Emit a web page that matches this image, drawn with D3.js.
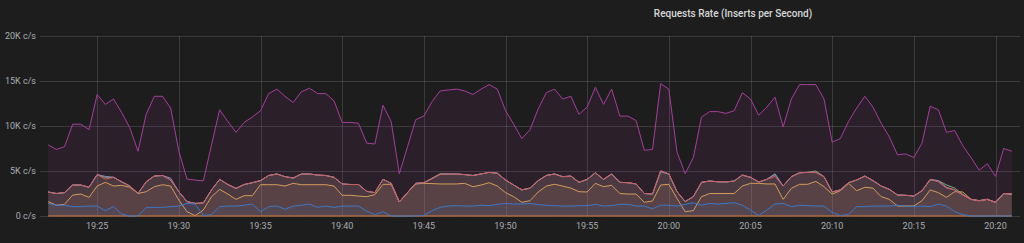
<!DOCTYPE html>
<html>
<head>
<meta charset="utf-8">
<script src="https://cdn.jsdelivr.net/npm/d3@7"></script>
<style>
  html, body { margin: 0; padding: 0; background: #1d1d1e; }
  svg { display: block; }
</style>
</head>
<body>
<div id="chart"></div>
<script>
// samples every 30s, starting 19:22:00, values in K c/s
var startTime = new Date(2020, 0, 1, 19, 22, 0);
var stepSec = 30;

var purpleTotal = [7.9, 7.4, 7.7, 10.2, 10.2, 9.6, 13.5, 12.4, 13.0, 11.5,
  9.8, 7.2, 11.3, 13.3, 13.3, 12.0, 7.2, 4.1, 4.0, 3.9,
  7.9, 11.8, 10.5, 9.3, 10.4, 11.0, 11.7, 13.6, 14.1, 13.3,
  12.6, 13.8, 14.2, 13.6, 13.6, 12.8, 10.4, 10.4, 10.3, 8.1,
  8.0, 12.3, 10.5, 4.7, 7.7, 10.7, 11.1, 12.7, 13.9, 14.0,
  14.1, 13.9, 13.5, 14.1, 14.6, 14.1, 11.7, 10.2, 8.6, 9.6,
  11.9, 13.7, 14.1, 13.0, 13.3, 11.3, 12.1, 14.3, 12.4, 14.1,
  11.1, 11.1, 10.6, 7.3, 7.4, 14.7, 14.1, 7.1, 4.7, 6.5,
  11.0, 11.6, 11.6, 11.4, 11.7, 13.7, 13.0, 11.2, 12.1, 13.2,
  9.9, 13.0, 14.6, 14.6, 14.6, 13.0, 8.2, 8.6, 10.5, 12.0,
  13.3, 12.1, 10.3, 8.8, 6.8, 6.9, 6.5, 8.1, 12.2, 11.8,
  9.3, 9.5, 7.8, 6.5, 5.1, 5.8, 4.4, 7.5, 7.2];

var greenSeries = [2.67, 2.5, 2.6, 3.44, 3.44, 3.19, 4.6, 4.3, 4.3, 3.8,
  3.33, 2.5, 3.8, 4.44, 4.5, 4.0, 2.7, 1.6, 1.4, 1.45,
  2.9, 4.07, 3.5, 3.07, 3.5, 3.7, 3.93, 4.5, 4.67, 4.37,
  4.22, 4.67, 4.67, 4.55, 4.5, 4.3, 3.56, 3.5, 3.5, 2.74,
  2.6, 4.07, 3.63, 1.56, 2.6, 3.63, 3.7, 4.2, 4.7, 4.67,
  4.67, 4.6, 4.5, 4.67, 4.85, 4.75, 4.0, 3.44, 2.9, 3.1,
  3.93, 4.5, 4.67, 4.37, 4.44, 3.74, 4.07, 4.8, 4.07, 4.67,
  3.74, 3.7, 3.56, 2.5, 2.44, 5.0, 4.67, 2.7, 1.6, 2.15,
  3.74, 3.89, 3.8, 3.78, 3.89, 4.55, 4.3, 3.78, 4.07, 4.6,
  3.33, 4.37, 4.8, 4.85, 5.0, 4.37, 2.67, 2.9, 3.7, 4.0,
  4.44, 3.93, 3.33, 2.96, 2.33, 2.3, 2.22, 2.81, 4.0, 3.93,
  3.45, 3.1, 2.4, 1.85, 1.7, 1.85, 1.52, 2.5, 2.44];

var yellowSeries = [1.6, 1.2, 1.3, 2.33, 2.44, 2.07, 3.33, 3.74, 3.33, 3.41,
  3.2, 2.5, 2.7, 3.26, 3.48, 3.33, 1.78, 0.48, 0.04, 0.67,
  2.15, 2.96, 2.44, 1.85, 2.26, 2.26, 3.48, 3.48, 3.48, 3.33,
  3.63, 3.48, 3.48, 3.48, 3.48, 3.33, 2.3, 2.3, 2.22, 2.15,
  2.37, 3.52, 3.52, 1.56, 2.6, 3.56, 3.63, 3.6, 3.56, 3.56,
  3.56, 3.63, 3.26, 3.44, 3.7, 3.33, 2.6, 2.15, 1.52, 1.7,
  2.67, 3.33, 3.52, 3.33, 3.1, 2.7, 2.67, 3.63, 3.26, 3.41,
  2.5, 2.44, 2.44, 1.52, 1.67, 3.44, 3.52, 1.96, 0.48, 0.6,
  2.15, 2.5, 2.5, 2.5, 2.5, 3.33, 3.63, 3.63, 3.56, 3.56,
  1.85, 3.07, 3.52, 3.52, 3.85, 3.26, 2.44, 2.81, 3.63, 2.81,
  3.19, 3.1, 2.15, 1.85, 1.11, 1.11, 1.11, 1.7, 2.9, 2.6,
  2.07, 2.7, 2.67, 1.85, 1.7, 1.85, 1.52, 2.5, 2.44];

var lavenderSeries = [2.67, 2.5, 2.6, 3.44, 3.44, 3.19, 4.6, 4.4, 4.3, 3.8,
  3.33, 2.5, 3.8, 4.44, 4.5, 4.2, 2.7, 1.6, 1.4, 1.45,
  2.9, 4.07, 3.5, 3.07, 3.5, 3.7, 3.93, 4.5, 4.67, 4.37,
  4.22, 4.67, 4.67, 4.55, 4.5, 4.3, 3.56, 3.5, 3.5, 2.74,
  2.6, 4.07, 3.63, 1.56, 2.6, 3.63, 3.7, 4.15, 4.63, 4.67,
  4.67, 4.6, 4.5, 4.67, 4.85, 4.75, 4.0, 3.44, 2.9, 3.1,
  3.93, 4.5, 4.67, 4.37, 4.44, 3.74, 4.07, 4.8, 4.07, 4.67,
  3.74, 3.7, 3.56, 2.5, 2.44, 4.9, 4.67, 2.7, 1.6, 2.15,
  3.74, 3.89, 3.8, 3.78, 3.89, 4.55, 4.3, 3.78, 4.07, 4.7,
  3.33, 4.37, 4.8, 4.85, 4.85, 4.37, 2.67, 2.9, 3.7, 4.0,
  4.44, 3.93, 3.33, 2.96, 2.33, 2.3, 2.22, 2.81, 4.07, 3.93,
  3.19, 2.9, 2.33, 1.85, 1.7, 1.85, 1.52, 2.5, 2.44];

var redSeries = [2.67, 2.5, 2.6, 3.44, 3.44, 3.19, 4.6, 4.1, 4.3, 3.8,
  3.33, 2.5, 3.8, 4.44, 4.5, 4.0, 2.7, 1.6, 1.4, 1.45,
  2.9, 4.07, 3.5, 3.07, 3.5, 3.7, 3.93, 4.5, 4.67, 4.37,
  4.22, 4.67, 4.67, 4.55, 4.5, 4.3, 3.56, 3.5, 3.5, 2.74,
  2.6, 4.07, 3.63, 1.56, 2.6, 3.63, 3.7, 4.15, 4.63, 4.67,
  4.67, 4.6, 4.5, 4.67, 4.85, 4.75, 4.0, 3.44, 2.9, 3.1,
  3.93, 4.5, 4.67, 4.37, 4.44, 3.74, 4.07, 4.8, 4.07, 4.67,
  3.74, 3.7, 3.56, 2.5, 2.44, 5.04, 4.67, 2.7, 1.6, 2.15,
  3.74, 3.89, 3.8, 3.78, 3.89, 4.55, 4.3, 3.78, 4.07, 4.4,
  3.33, 4.37, 4.8, 4.85, 4.85, 4.37, 2.67, 2.9, 3.7, 4.0,
  4.44, 3.93, 3.33, 2.96, 2.33, 2.3, 2.22, 2.81, 4.07, 3.8,
  3.1, 2.9, 2.33, 1.85, 1.7, 1.85, 1.52, 2.5, 2.44];

var blueSeries = [1.4, 1.2, 1.2, 1.04, 1.04, 1.11, 1.11, 0.6, 1.04, 0.22,
  0, 0, 0.96, 0.96, 0.96, 1.04, 1.11, 1.4, 1.33, 0.07,
  0.15, 1.04, 1.11, 1.11, 1.2, 1.33, 0.48, 1.04, 1.11, 0.74,
  1.11, 1.2, 1.33, 0.96, 1.11, 0.96, 1.11, 1.11, 1.11, 0.55,
  0.15, 0.48, 0, 0, 0, 0, 0.07, 0.6, 0.96, 1.11,
  1.15, 1.11, 1.11, 1.2, 1.15, 1.3, 1.4, 1.33, 1.33, 1.4,
  1.26, 1.2, 1.15, 1.11, 1.11, 1.15, 1.15, 1.3, 1.11, 1.15,
  1.3, 1.3, 1.11, 1.11, 0.81, 1.2, 1.2, 1.11, 1.3, 1.48,
  1.2, 1.4, 1.33, 1.4, 1.48, 1.2, 0.67, 0.07, 0.67, 1.33,
  1.4, 1.04, 1.2, 1.15, 1.11, 1.11, 0.4, 0.07, 0.15, 1.04,
  1.04, 1.11, 1.11, 1.11, 1.2, 1.11, 1.04, 1.11, 1.04, 1.33,
  1.11, 0.48, 0.15, 0, 0, 0, 0, 0, 0];

var orangeSeries = [0, 0, 0, 0, 0, 0, 0, 0, 0, 0, 0, 0, 0, 0, 0, 0, 0, 0, 0, 0,
  0, 0, 0, 0, 0, 0, 0, 0, 0, 0, 0, 0, 0, 0, 0, 0, 0, 0, 0, 0,
  0, 0, 0, 0, 0, 0, 0, 0, 0, 0, 0, 0, 0, 0, 0, 0, 0, 0, 0, 0,
  0, 0, 0, 0, 0, 0, 0, 0, 0, 0, 0, 0, 0, 0, 0, 0, 0, 0, 0, 0,
  0, 0, 0, 0, 0, 0, 0, 0, 0, 0, 0, 0, 0, 0, 0, 0, 0, 0, 0, 0,
  0, 0, 0, 0, 0, 0, 0, 0, 0, 0, 0, 0, 0, 0, 0, 0, 0, 0, 0];

var yTicks = [0, 5, 10, 15, 20];

var series = [
  { values: purpleTotal, color: "#a63e9b" },
  { values: greenSeries, color: "#7ea86d" },
  { values: yellowSeries, color: "#d49c58" },
  { values: lavenderSeries, color: "#8589c6" },
  { values: redSeries, color: "#d45a60" },
  { values: orangeSeries, color: "#e07a35" },
  { values: blueSeries, color: "#3a78c6" }
];

var width = 1024, height = 243;

var svg = d3.select("#chart").append("svg")
  .attr("width", width)
  .attr("height", height);

var x = d3.scaleTime()
  .domain([new Date(2020, 0, 1, 19, 21, 30), new Date(2020, 0, 1, 20, 21, 30)])
  .range([40, 1020]);

var y = d3.scaleLinear()
  .domain([0, 20])
  .range([216, 36]);

function timeAt(i) {
  return new Date(startTime.getTime() + i * stepSec * 1000);
}

// grid
var xTicks = x.ticks(d3.timeMinute.every(5)).filter(function(t) { return t > x.domain()[0]; });

svg.append("g")
  .selectAll("line.h")
  .data(yTicks)
  .enter().append("line")
  .attr("x1", 40).attr("x2", 1020)
  .attr("y1", function(d) { return Math.round(y(d)) + 0.5; })
  .attr("y2", function(d) { return Math.round(y(d)) + 0.5; })
  .attr("stroke", "rgba(255,255,255,0.13)");

svg.append("g")
  .selectAll("line.v")
  .data(xTicks)
  .enter().append("line")
  .attr("x1", function(d) { return Math.round(x(d)) + 0.5; })
  .attr("x2", function(d) { return Math.round(x(d)) + 0.5; })
  .attr("y1", 36).attr("y2", 216)
  .attr("stroke", "rgba(255,255,255,0.13)");

// series
var area = d3.area()
  .x(function(d, i) { return x(timeAt(i)); })
  .y0(y(0))
  .y1(function(d) { return y(d); });

var line = d3.line()
  .x(function(d, i) { return x(timeAt(i)); })
  .y(function(d) { return y(d); });

var plot = svg.append("g");

series.forEach(function(s) {
  plot.append("path")
    .attr("d", area(s.values))
    .attr("fill", s.color)
    .attr("fill-opacity", 0.1);
});

series.forEach(function(s) {
  plot.append("path")
    .attr("d", line(s.values))
    .attr("fill", "none")
    .attr("stroke", s.color)
    .attr("stroke-width", 1)
    .attr("stroke-linejoin", "round");
});

// axis labels
svg.append("g")
  .selectAll("text")
  .data(yTicks)
  .enter().append("text")
  .attr("x", 36)
  .attr("y", function(d) { return y(d); })
  .attr("dy", "0.35em")
  .attr("text-anchor", "end")
  .attr("fill", "#a9acb0")
  .style("font", "9px Roboto, sans-serif")
  .text(function(d) { return d === 0 ? "0 c/s" : d + "K c/s"; });

var fmt = d3.timeFormat("%H:%M");
svg.append("g")
  .selectAll("text")
  .data(xTicks)
  .enter().append("text")
  .attr("x", function(d) { return x(d); })
  .attr("y", 229)
  .attr("text-anchor", "middle")
  .attr("fill", "#a9acb0")
  .style("font", "9px Roboto, sans-serif")
  .text(function(d) { return fmt(d); });

// title
svg.append("text")
  .attr("x", 733)
  .attr("y", 17)
  .attr("text-anchor", "middle")
  .attr("fill", "#d8d9da")
  .style("font", "500 10px Roboto, sans-serif")
  .text("Requests Rate (Inserts per Second)");
</script>
</body>
</html>
